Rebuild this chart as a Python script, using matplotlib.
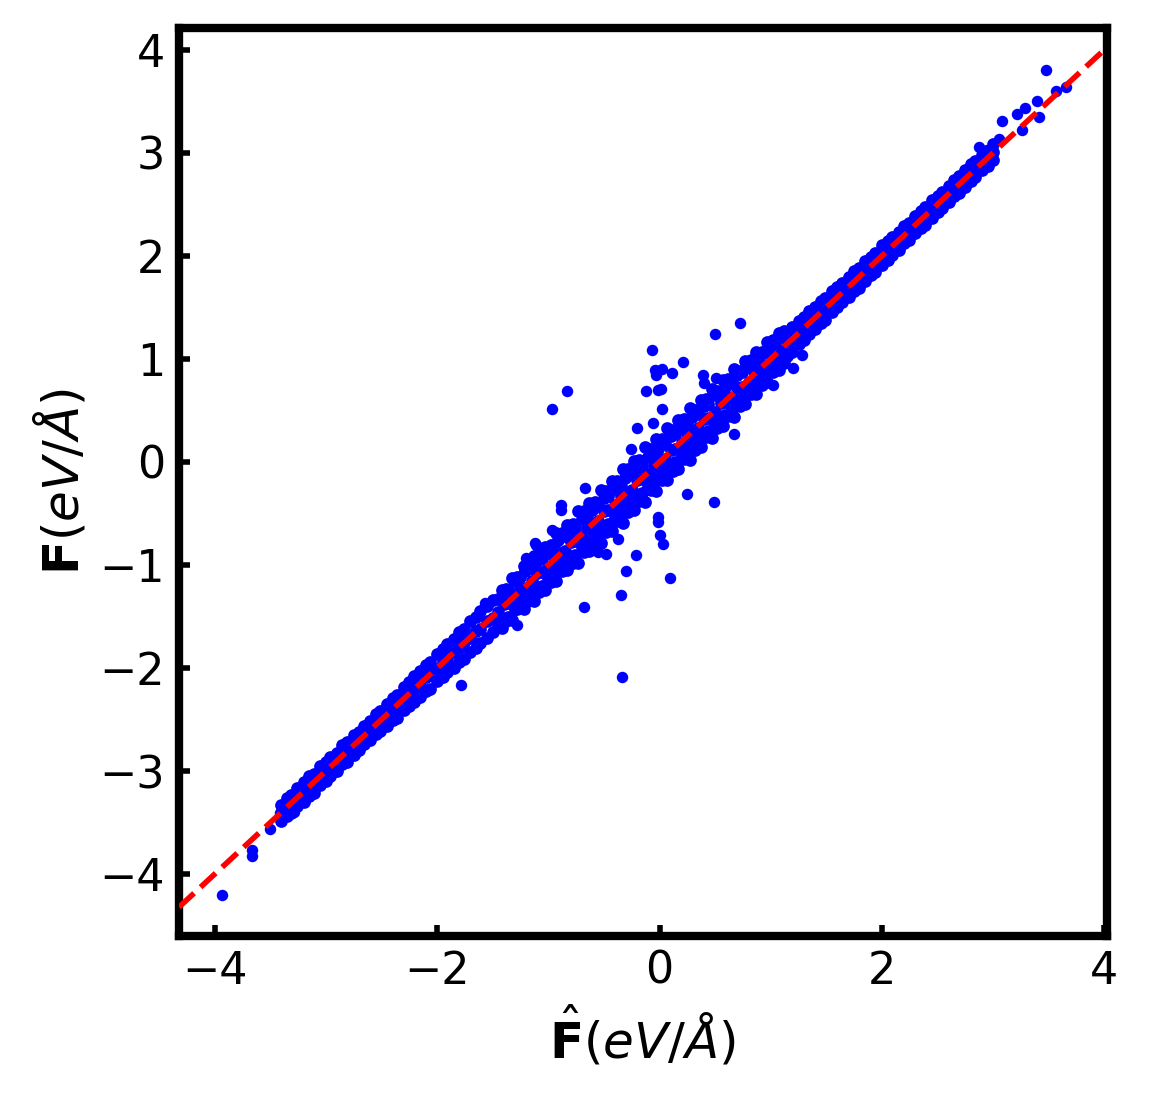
import numpy as np
import matplotlib
matplotlib.use('Agg')
import matplotlib.pyplot as plt

# Predicted force (x) along the dense band, with three rows of true force (y)
band_x = [-3.40, -3.35, -3.31, -3.26, -3.20, -3.15, -3.11, -3.05, -3.00, -2.96, -2.90, -2.85, -2.81, -2.75, -2.70, -2.66, -2.60, -2.55, -2.51,
          -2.45, -2.40, -2.36, -2.30, -2.25, -2.21, -2.15, -2.10, -2.06, -2.00, -1.95, -1.91, -1.85, -1.80, -1.76, -1.70, -1.65, -1.61, -1.55, -1.50,
          -1.45, -1.40, -1.36, -1.30, -1.25, -1.21, -1.15, -1.10, -1.06, -1.00, -0.95, -0.91, -0.85, -0.80, -0.76, -0.70, -0.65, -0.61, -0.55, -0.50,
          -0.46, -0.40, -0.35, -0.31, -0.25, -0.20, -0.16, -0.10, -0.05, -0.01, 0.05, 0.10, 0.14, 0.20, 0.25, 0.29, 0.35, 0.40, 0.44, 0.50,
          0.55, 0.59, 0.65, 0.70, 0.74, 0.80, 0.85, 0.89, 0.95, 1.00, 1.04, 1.10, 1.15, 1.19,
          1.25, 1.30, 1.34, 1.40, 1.45, 1.49, 1.55, 1.60, 1.64, 1.70, 1.75, 1.79, 1.85, 1.90, 1.94, 2.00, 2.05, 2.09, 2.15, 2.20,
          2.24, 2.30, 2.35, 2.39, 2.45, 2.50, 2.54, 2.60, 2.65, 2.69, 2.75, 2.80, 2.84, 2.90, 2.95, 3.00]
band_mid = [-3.41, -3.34, -3.32, -3.25, -3.21, -3.14, -3.12, -3.05, -3.01, -2.94, -2.91, -2.86, -2.80, -2.76, -2.69, -2.67, -2.61, -2.54, -2.52,
            -2.46, -2.39, -2.37, -2.29, -2.26, -2.20, -2.16, -2.09, -2.07, -2.01, -1.94, -1.92, -1.84, -1.81, -1.75, -1.71, -1.64, -1.62, -1.54, -1.51,
            -1.46, -1.38, -1.37, -1.31, -1.23, -1.22, -1.16, -1.08, -1.07, -1.02, -0.93, -0.92, -0.86, -0.78, -0.77, -0.72, -0.63, -0.62, -0.57, -0.48,
            -0.47, -0.42, -0.33, -0.32, -0.27, -0.18, -0.17, -0.12, -0.03, -0.02, 0.03, 0.12, 0.13, 0.18, 0.27, 0.28, 0.33, 0.42, 0.43, 0.48,
            0.57, 0.58, 0.63, 0.72, 0.73, 0.78, 0.87, 0.88, 0.93, 1.02, 1.03, 1.08, 1.17, 1.18,
            1.24, 1.31, 1.33, 1.41, 1.44, 1.50, 1.54, 1.61, 1.63, 1.71, 1.74, 1.80, 1.84, 1.91, 1.93, 2.01, 2.04, 2.10, 2.14, 2.21,
            2.23, 2.31, 2.34, 2.40, 2.44, 2.51, 2.53, 2.61, 2.64, 2.70, 2.74, 2.81, 2.83, 2.91, 2.94, 3.01]
band_hi = [-3.33, -3.26, -3.23, -3.16, -3.11, -3.05, -3.03, -2.95, -2.91, -2.86, -2.82, -2.75, -2.72, -2.65, -2.62, -2.56, -2.51, -2.45, -2.42,
           -2.35, -2.29, -2.26, -2.18, -2.14, -2.08, -2.03, -1.97, -1.94, -1.86, -1.82, -1.77, -1.72, -1.65, -1.62, -1.54, -1.50, -1.45, -1.40, -1.34,
           -1.33, -1.26, -1.24, -1.16, -1.12, -1.06, -1.03, -0.96, -0.93, -0.85, -0.83, -0.76, -0.72, -0.66, -0.64, -0.55, -0.52, -0.47, -0.43, -0.35,
           -0.33, -0.26, -0.23, -0.16, -0.12, -0.06, -0.04, 0.05, 0.08, 0.13, 0.17, 0.25, 0.27, 0.34, 0.37, 0.44, 0.48, 0.54, 0.56, 0.65,
           0.68, 0.73, 0.77, 0.84, 0.87, 0.93, 0.97, 1.02, 1.07, 1.13, 1.15, 1.22, 1.26, 1.31,
           1.37, 1.41, 1.46, 1.50, 1.56, 1.59, 1.66, 1.70, 1.74, 1.79, 1.85, 1.88, 1.95, 1.99, 2.03, 2.10, 2.14, 2.18, 2.23, 2.29,
           2.32, 2.39, 2.43, 2.47, 2.54, 2.58, 2.62, 2.68, 2.74, 2.77, 2.83, 2.89, 2.92, 2.98, 3.02, 3.08]
band_lo = [-3.48, -3.44, -3.41, -3.34, -3.30, -3.24, -3.21, -3.13, -3.10, -3.05, -3.00, -2.93, -2.91, -2.84, -2.80, -2.74, -2.70, -2.64, -2.61,
           -2.56, -2.50, -2.48, -2.41, -2.37, -2.33, -2.28, -2.22, -2.20, -2.13, -2.09, -2.04, -2.00, -1.94, -1.91, -1.84, -1.81, -1.76, -1.71, -1.65,
           -1.58, -1.52, -1.50, -1.43, -1.39, -1.33, -1.29, -1.23, -1.20, -1.13, -1.09, -1.03, -0.99, -0.93, -0.90, -0.83, -0.79, -0.73, -0.70, -0.63,
           -0.60, -0.53, -0.49, -0.44, -0.39, -0.33, -0.30, -0.23, -0.19, -0.14, -0.09, -0.03, 0.00, 0.07, 0.11, 0.16, 0.21, 0.27, 0.30, 0.37,
           0.41, 0.46, 0.52, 0.58, 0.61, 0.68, 0.72, 0.77, 0.83, 0.88, 0.92, 0.98, 1.03, 1.07,
           1.14, 1.18, 1.24, 1.29, 1.35, 1.38, 1.45, 1.50, 1.55, 1.60, 1.66, 1.69, 1.76, 1.81, 1.84, 1.91, 1.96, 2.01, 2.06, 2.12,
           2.15, 2.22, 2.27, 2.30, 2.37, 2.42, 2.46, 2.52, 2.58, 2.61, 2.67, 2.73, 2.76, 2.83, 2.87, 2.93]

# wider spread in the middle of the band
wide_x = [-1.42, -1.33, -1.22, -1.13, -1.03, -0.93, -0.83, -0.73, -0.63, -0.53, -0.43, -0.33, -0.23,
          -0.13, -0.03, 0.07, 0.17, 0.27, 0.37, 0.47, 0.57, 0.67, 0.77, 0.87, 0.97, 1.07]
wide_hi = [-1.24, -1.13, -1.01, -0.91, -0.83, -0.69, -0.61, -0.48, -0.40, -0.27, -0.19, -0.07, 0.01,
           0.14, 0.22, 0.33, 0.41, 0.52, 0.60, 0.71, 0.79, 0.90, 0.98, 1.07, 1.16, 1.25]
wide_lo = [-1.61, -1.53, -1.43, -1.35, -1.24, -1.16, -1.05, -0.98, -0.86, -0.79, -0.67, -0.59, -0.47,
           -0.39, -0.28, -0.18, -0.07, 0.02, 0.14, 0.23, 0.35, 0.44, 0.56, 0.66, 0.78, 0.89]
fill_x = [-1.38, -1.28, -1.18, -1.08, -0.98, -0.88, -0.78, -0.68, -0.58, -0.48, -0.38, -0.28, -0.18,
          -0.08, 0.02, 0.12, 0.22, 0.32, 0.42, 0.52, 0.62, 0.72, 0.82, 0.92, 1.02, 1.12]
fill_hi = [-1.23, -1.12, -1.01, -0.90, -0.81, -0.69, -0.60, -0.48, -0.39, -0.28, -0.19, -0.07, 0.02,
           0.13, 0.22, 0.31, 0.42, 0.50, 0.61, 0.69, 0.80, 0.88, 0.99, 1.07, 1.18, 1.27]
fill_lo = [-1.54, -1.43, -1.35, -1.26, -1.17, -1.06, -0.98, -0.87, -0.79, -0.68, -0.57, -0.49, -0.38,
           -0.27, -0.18, -0.09, 0.03, 0.12, 0.24, 0.33, 0.45, 0.54, 0.66, 0.75, 0.87, 0.96]

# scattered points away from the band
out_x = [-3.93, -3.66, -3.66, -3.50, -3.41, -3.29, -1.785, -1.57, -1.285, -1.20, -1.12, -1.11,
         -0.97, -0.97, -0.89, -0.89, -0.83, -0.68, -0.67, -0.55, -0.48, -0.37, -0.345, -0.305,
         -0.26, -0.215, -0.20, -0.125, -0.07, -0.06, -0.04, -0.03, -0.015, -0.015, -0.015, 0.0,
         0.015, 0.02, 0.02, 0.03, 0.09, 0.11, 0.215, 0.245, 0.395, 0.40, 0.49, 0.50,
         0.51, 0.67, 0.72, 1.02, 1.20, 1.285, 2.87, 2.94, 3.05, 3.08, 3.21, 3.26,
         3.29, 3.39, 3.41, 3.47, 3.56, 3.65, -0.34]
out_y = [-4.20, -3.77, -3.82, -3.56, -3.41, -3.40, -2.16, -1.37, -1.58, -0.93, -0.79, -0.81,
         -0.66, 0.51, -0.42, -0.47, 0.69, -1.41, -0.25, -0.87, -0.89, -0.75, -1.29, -1.06,
         0.13, -0.90, 0.33, 0.69, 1.09, 0.38, 0.89, 0.84, -0.53, -0.58, 0.70, -0.71,
         0.71, 0.90, 0.51, -0.80, -1.13, 0.86, 0.97, -0.31, 0.84, 0.77, -0.39, 1.24,
         0.81, 0.27, 1.35, 0.75, 0.91, 1.04, 3.06, 3.03, 3.13, 3.31, 3.38, 3.22,
         3.43, 3.50, 3.35, 3.80, 3.60, 3.64, -2.09]

bx = np.concatenate([band_x, band_x, band_x, wide_x, wide_x, fill_x, fill_x])
by = np.concatenate([band_mid, band_hi, band_lo, wide_hi, wide_lo, fill_hi, fill_lo])

fig = plt.figure(figsize=(5.755, 5.515), dpi=200)
ax = fig.add_axes([0.1555, 0.1514, 0.806, 0.8232])

ax.scatter(bx, by, s=21, c='blue', linewidths=0)
ax.scatter(out_x, out_y, s=17, c='blue', linewidths=0)
ax.axline((0, 0), slope=1, color='red', linestyle='--', linewidth=2, zorder=3)

ax.set_xlim(-4.32, 4.02)
ax.set_ylim(-4.60, 4.21)
ax.set_xticks([-4, -2, 0, 2, 4])
ax.set_yticks([-4, -3, -2, -1, 0, 1, 2, 3, 4])

for s in ax.spines.values():
    s.set_linewidth(3)
ax.tick_params(direction='in', length=4, width=2, labelsize=16, pad=5)

ax.set_xlabel(r'$\hat{\mathbf{F}}(eV/\AA)$', fontsize=18)
ax.set_ylabel(r'$\mathbf{F}(eV/\AA)$', fontsize=18)

fig.savefig('out.png', dpi=200)
